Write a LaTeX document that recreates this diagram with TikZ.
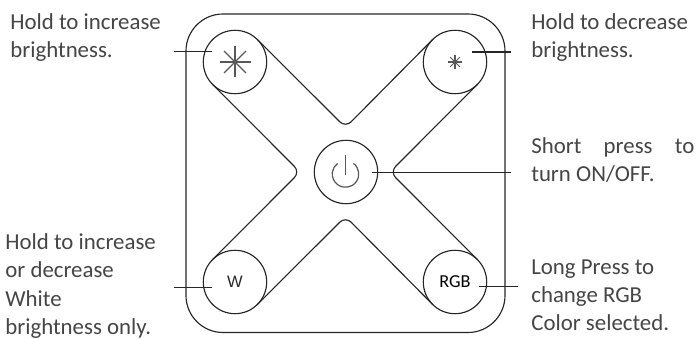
\documentclass[tikz,border=0pt]{standalone}
\usepackage{fontspec}
\setmainfont{Carlito}
\newfontfamily\wfont{Liberation Sans}
\usepackage{xcolor}
\definecolor{RemoteLine}{HTML}{262626}
\definecolor{RemoteSpoke}{HTML}{595959}
\definecolor{RemoteText}{HTML}{454545}
\begin{document}
\begin{tikzpicture}[
        btn/.style={draw=RemoteLine,line width=0.65pt,circle,inner sep=0pt,outer sep=0pt,minimum size=1.268cm},
        outline/.style={draw=RemoteLine,line width=0.65pt},
        leader/.style={draw=RemoteLine,line width=0.65pt},
        spoke/.style={draw=RemoteSpoke,line width=0.7pt},
        lbl/.style={font=\fontsize{13}{16.2}\selectfont,color=RemoteText,align=left,anchor=north west,inner sep=0pt}]
      \useasboundingbox (0,0) rectangle (13.96,6.78);
      % remote body
      \draw[outline,rounded corners=0.74cm] (3.72,0.13) rectangle (10.10,6.50);
      % buttons
      \node[btn] (up)    at (4.70,5.54) {};
      \node[btn] (down)  at (9.10,5.54) {};
      \node[btn] (power) at (6.92,3.34) {};
      \node[btn,font=\wfont\fontsize{9.4}{10}\selectfont,text=RemoteLine] (white) at (4.70,1.14) {W};
      \node[btn,font=\fontsize{10.4}{11}\selectfont,text=black] (rgb) at (9.10,1.14) {RGB};
      % notches of the X
      \coordinate (xtop)    at (6.91,4.23);
      \coordinate (xbottom) at (6.91,2.45);
      \coordinate (xleft)   at (6.00,3.34);
      \coordinate (xright)  at (7.80,3.34);
      \draw[outline,rounded corners=0.16cm] (up.45)    -- (xtop)    -- (down.135);
      \draw[outline,rounded corners=0.16cm] (down.-45) -- (xright)  -- (rgb.45);
      \draw[outline,rounded corners=0.16cm] (rgb.225)  -- (xbottom) -- (white.-45);
      \draw[outline,rounded corners=0.16cm] (white.135) -- (xleft)  -- (up.225);
      % icons
      \foreach \ang in {0,45,...,315} {
        \draw[spoke] (up.center) -- ++(\ang:0.31);
        \draw[spoke,line width=0.6pt] (down.center) -- ++(\ang:0.135);
      }
      \draw[spoke] (6.91,3.67) -- (6.91,3.28);
      \draw[spoke] (6.91,3.30) ++(53:0.265) arc[start angle=53,end angle=-233,radius=0.265];
      % leaders
      \coordinate (upa)    at (3.48,5.75);
      \coordinate (upb)    at (4.24,5.75);
      \coordinate (downa)  at (9.44,5.74);
      \coordinate (downb)  at (10.22,5.74);
      \coordinate (powera) at (7.44,3.33);
      \coordinate (powerb) at (10.22,3.33);
      \coordinate (whitea) at (3.48,1.03);
      \coordinate (whiteb) at (4.24,1.03);
      \coordinate (rgba)   at (9.58,1.05);
      \coordinate (rgbb)   at (10.35,1.05);
      \draw[leader] (upa) -- (upb);
      \draw[leader] (downa) -- (downb);
      \draw[leader] (powera) -- (powerb);
      \draw[leader] (whitea) -- (whiteb);
      \draw[leader] (rgba) -- (rgbb);
      % captions
      \node[lbl] (uptxt)    at (0.20,6.52) {Hold to increase\\brightness.};
      \node[lbl] (downtxt)  at (10.62,6.52) {Hold to decrease\\brightness.};
      \node[lbl,align=justify,text width=3.26cm] (powertxt) at (10.62,4.04) {Short press to\linebreak turn ON/OFF.};
      \node[lbl] (whitetxt) at (0.10,2.12) {Hold to increase\\or decrease\\White\\brightness only.};
      \node[lbl] (rgbtxt)   at (10.62,1.60) {Long Press to\\change RGB\\Color selected.};
\end{tikzpicture}
\end{document}
